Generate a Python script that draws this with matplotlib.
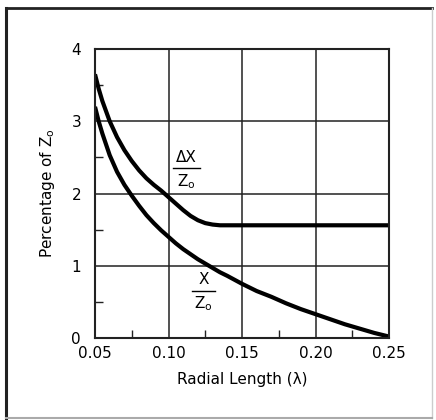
import matplotlib
matplotlib.use("Agg")
import matplotlib.pyplot as plt
from matplotlib.lines import Line2D

# Data
lam = [0.05, 0.0525, 0.055, 0.06, 0.065, 0.07, 0.075, 0.08, 0.085, 0.09, 0.095, 0.10,
       0.105, 0.11, 0.115, 0.12, 0.125, 0.13, 0.135, 0.14, 0.15, 0.16, 0.17,
       0.18, 0.19, 0.20, 0.21, 0.22, 0.23, 0.24, 0.25]
delta_x = [3.65, 3.45, 3.28, 3.00, 2.78, 2.60, 2.45, 2.32, 2.21, 2.12, 2.04, 1.95,
           1.86, 1.77, 1.69, 1.63, 1.59, 1.57, 1.56, 1.56, 1.56, 1.56, 1.56,
           1.56, 1.56, 1.56, 1.56, 1.56, 1.56, 1.56, 1.56]
x_zo = [3.20, 3.00, 2.83, 2.53, 2.30, 2.12, 1.97, 1.83, 1.70, 1.59, 1.49, 1.40,
        1.31, 1.23, 1.16, 1.09, 1.03, 0.97, 0.91, 0.86, 0.75, 0.65, 0.57,
        0.48, 0.40, 0.33, 0.26, 0.19, 0.13, 0.07, 0.02]
xticks = [0.05, 0.10, 0.15, 0.20, 0.25]
xticklabels = ["0.05", "0.10", "0.15", "0.20", "0.25"]
yticks = [0, 1, 2, 3, 4]
yticklabels = ["0", "1", "2", "3", "4"]

plt.rcParams['font.family'] = ['DejaVu Sans']
fig = plt.figure(figsize=(4.36, 4.2), dpi=100)
ax = fig.add_axes([95/436, (420-338)/420, (389-95)/436, (338-49)/420])

ax.plot(lam, delta_x, color='black', lw=3.0, solid_capstyle='butt', solid_joinstyle='round')
ax.plot(lam, x_zo, color='black', lw=3.0, solid_capstyle='butt', solid_joinstyle='round')

ax.set_xlim(0.05, 0.25)
ax.set_ylim(0, 4)
ax.set_xticks(xticks)
ax.set_xticklabels(xticklabels, fontsize=11)
ax.set_yticks(yticks)
ax.set_yticklabels(yticklabels, fontsize=11)
ax.set_xticks([0.075, 0.125, 0.175, 0.225], minor=True)
ax.set_yticks([0.5, 1.5, 2.5, 3.5], minor=True)
ax.tick_params(which='major', length=0, pad=6)
ax.tick_params(axis='y', which='major', pad=10)
ax.tick_params(which='minor', direction='in', length=6, width=1.0, color='#222222')
ax.grid(True, which='major', color='#222222', lw=1.1)
for s in ax.spines.values():
    s.set_linewidth(1.5)
    s.set_color('#222222')

ax.set_xlabel("Radial Length (λ)", fontsize=11, labelpad=8)
ax.set_ylabel(r"Percentage of $\mathregular{Z_o}$", fontsize=11, labelpad=10)

# Fraction labels
def frac(x, y, top, w):
    ax.text(x, y + 0.05, top, ha='center', va='bottom', fontsize=11)
    ax.plot([x - w/2, x + w/2], [y, y], color='black', lw=1.0)
    ax.text(x, y - 0.05, r"$\mathregular{Z_o}$", ha='center', va='top', fontsize=11)

frac(0.1122, 2.35, "ΔX", 0.018)
frac(0.1238, 0.65, "X", 0.016)

# Outer frame
fig.add_artist(Line2D([6/436, 6/436], [1-8/420, 1-418/420], transform=fig.transFigure, color='#222222', lw=2.2))
fig.add_artist(Line2D([6/436, 432/436], [1-8/420, 1-8/420], transform=fig.transFigure, color='#222222', lw=2.0))
fig.add_artist(Line2D([432/436, 432/436], [1-8/420, 1-418/420], transform=fig.transFigure, color='#cccccc', lw=1.0))
fig.add_artist(Line2D([6/436, 432/436], [1-418/420, 1-418/420], transform=fig.transFigure, color='#aaaaaa', lw=1.5))

fig.savefig("out.png", dpi=100)
